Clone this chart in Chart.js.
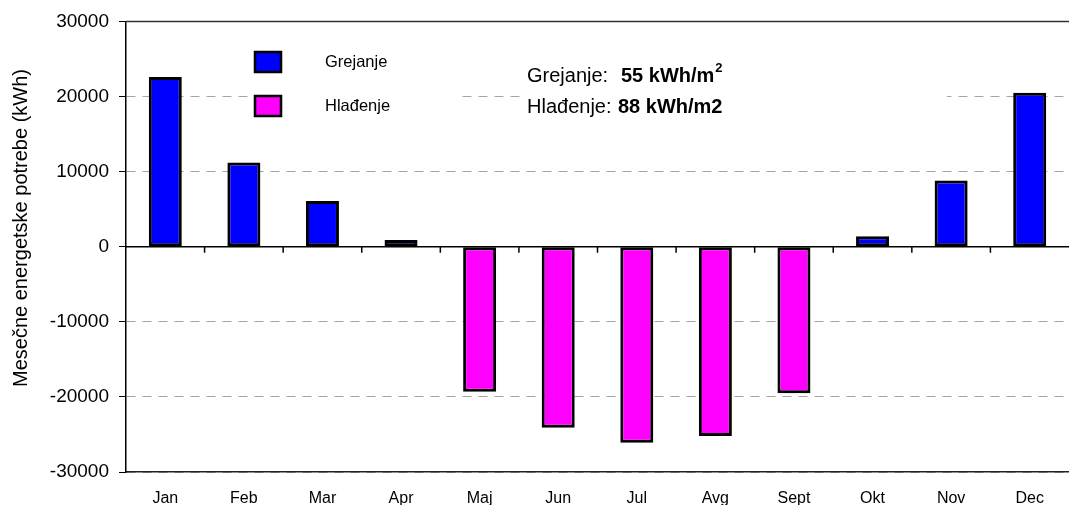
<!DOCTYPE html>
<html>
<head>
<meta charset="utf-8">
<script src="https://cdn.jsdelivr.net/npm/chart.js@4"></script>
<style>
  body { margin: 0; background: #fff; }
  #wrap { width: 1069px; height: 505px; }
</style>
</head>
<body>
<div id="wrap"><canvas id="energyChart"></canvas></div>
<script>
// podaci
const months = ['Jan', 'Feb', 'Mar', 'Apr', 'Maj', 'Jun', 'Jul', 'Avg', 'Sept', 'Okt', 'Nov', 'Dec'];
const grejanje = [22600, 11200, 6100, 900, null, null, null, null, null, 1400, 8800, 20500];
const hladjenje = [null, null, null, null, -19300, -24100, -26100, -25200, -19500, null, null, null];
const yMin = -30000;
const yMax = 30000;
const yStep = 10000;
const yTitle = 'Mesečne energetske potrebe (kWh)';
const noteHeat = ['Grejanje:', '55 kWh/m', '2'];
const noteCool = ['Hlađenje:', '88 kWh/m2'];

const FONT = '"Liberation Sans", Arial, sans-serif';

// legenda, napomena, nulta linija
const overlay = {
  id: 'overlay',
  beforeDatasetsDraw(chart) {
    const ctx = chart.ctx;
    ctx.save();
    ctx.fillStyle = '#fff';
    ctx.fillRect(250, 40, 210, 85);
    ctx.fillRect(520, 50, 427, 75);
    ctx.restore();
  },
  afterDatasetsDraw(chart) {
    const ctx = chart.ctx;
    const area = chart.chartArea;
    const x = chart.scales.x;
    const y = chart.scales.y;
    const y0 = y.getPixelForValue(0);
    ctx.save();

    // gornja linija
    ctx.strokeStyle = '#333';
    ctx.lineWidth = 1.5;
    ctx.beginPath();
    ctx.moveTo(area.left, area.top);
    ctx.lineTo(area.right, area.top);
    ctx.stroke();

    // nulta linija sa podeocima
    ctx.strokeStyle = '#000';
    ctx.beginPath();
    ctx.moveTo(area.left, y0);
    ctx.lineTo(area.right, y0);
    for (let i = 1; i < months.length; i++) {
      const xb = (x.getPixelForValue(i - 1) + x.getPixelForValue(i)) / 2;
      ctx.moveTo(xb, y0);
      ctx.lineTo(xb, y0 + 6);
    }
    ctx.stroke();

    // legenda
    chart.data.datasets.forEach(function (ds, i) {
      const ly = 52 + i * 44;
      ctx.fillStyle = ds.backgroundColor;
      ctx.fillRect(255, ly, 26, 20);
      ctx.lineWidth = 2.5;
      ctx.strokeStyle = '#000';
      ctx.strokeRect(255, ly, 26, 20);
      ctx.fillStyle = '#000';
      ctx.font = '16.5px ' + FONT;
      ctx.textBaseline = 'middle';
      ctx.fillText(ds.label, 325, ly + 10);
    });

    // napomena
    ctx.textBaseline = 'alphabetic';
    ctx.fillStyle = '#000';
    ctx.font = '20px ' + FONT;
    ctx.fillText(noteHeat[0], 527, 82);
    ctx.fillText(noteCool[0], 527, 113);
    ctx.font = 'bold 20px ' + FONT;
    ctx.fillText(noteHeat[1], 621, 82);
    const w = ctx.measureText(noteHeat[1]).width;
    ctx.fillText(noteCool[1], 618, 113);
    ctx.font = 'bold 13px ' + FONT;
    ctx.fillText(noteHeat[2], 621 + w + 1, 72);

    // naslov y ose
    ctx.translate(21, 228);
    ctx.rotate(-Math.PI / 2);
    ctx.font = '20px ' + FONT;
    ctx.textAlign = 'center';
    ctx.textBaseline = 'middle';
    ctx.fillText(yTitle, 0, 0);
    ctx.restore();
  }
};

const ctx = document.getElementById('energyChart');
new Chart(ctx, {
  type: 'bar',
  data: {
    labels: months,
    datasets: [{
      label: 'Grejanje',
      data: grejanje,
      backgroundColor: '#0000ff',
      borderColor: '#000',
      borderWidth: 3,
      borderSkipped: false,
      grouped: false
    }, {
      label: 'Hlađenje',
      data: hladjenje,
      backgroundColor: '#ff00ff',
      borderColor: '#000',
      borderWidth: 3,
      borderSkipped: false,
      grouped: false
    }]
  },
  options: {
    responsive: true,
    maintainAspectRatio: false,
    animation: false,
    layout: { padding: { top: 20, right: 0, left: 0, bottom: 0 } },
    categoryPercentage: 1,
    barPercentage: 0.42,
    plugins: {
      legend: { display: false },
      tooltip: { enabled: false }
    },
    scales: {
      x: {
        grid: { display: false },
        border: { display: true, color: '#222', width: 1.5 },
        ticks: {
          color: '#000',
          padding: 9,
          maxRotation: 0,
          autoSkip: false,
          font: { family: FONT, size: 16 }
        },
        afterFit(scale) { scale.height = 33; }
      },
      y: {
        min: yMin,
        max: yMax,
        ticks: {
          stepSize: yStep,
          color: '#000',
          padding: 10,
          font: { family: FONT, size: 19 },
          callback: function (v) { return String(v); }
        },
        grid: {
          color: '#a6a6a6',
          lineWidth: 1,
          tickColor: '#000',
          tickLength: 7,
          tickBorderDash: []
        },
        border: { display: true, color: '#000', width: 1.5, dash: [9, 7] },
        afterFit(scale) { scale.width = 126; }
      }
    }
  },
  plugins: [overlay]
});
</script>
</body>
</html>
